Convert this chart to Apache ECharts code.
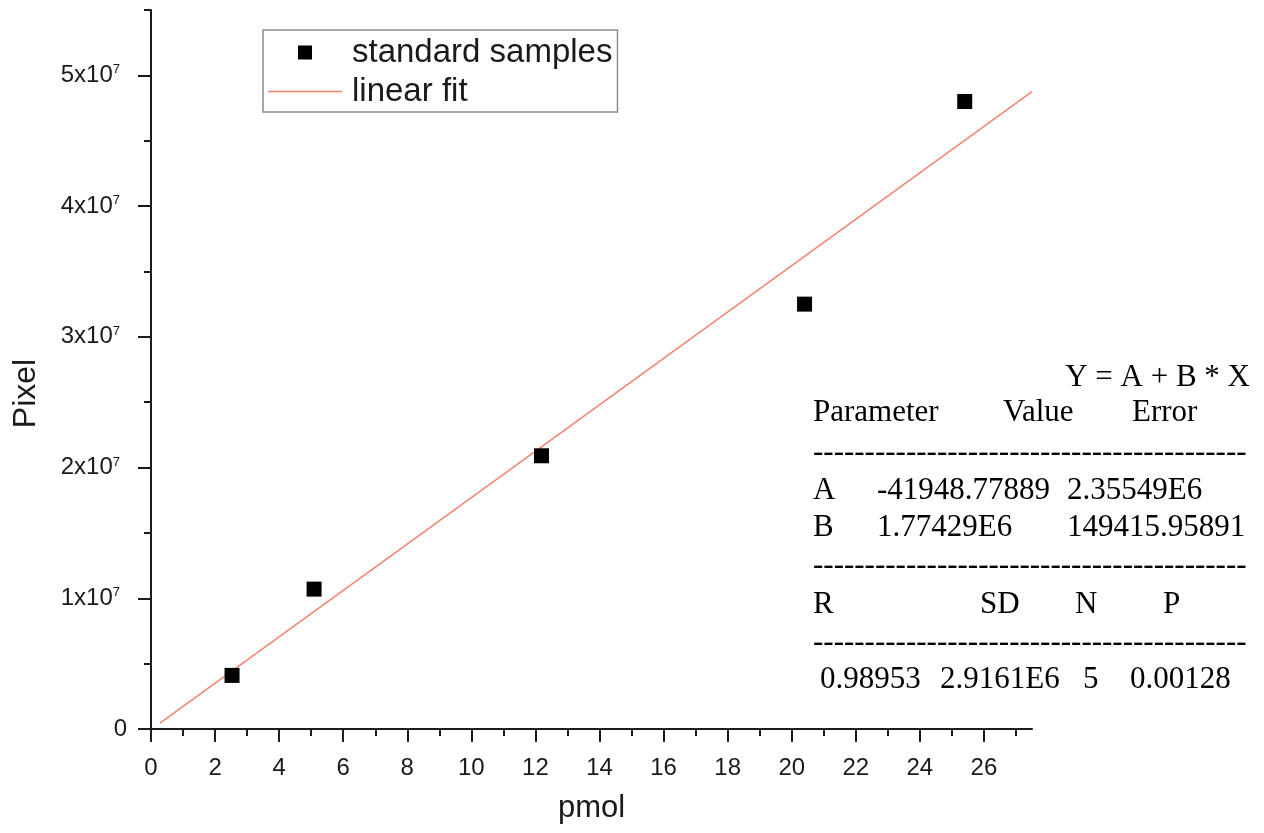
<!DOCTYPE html>
<html>
<head>
<meta charset="utf-8">
<title>Pixel vs pmol calibration</title>
<script src="https://cdn.jsdelivr.net/npm/echarts@6/dist/echarts.min.js"></script>
<style>
  html, body { margin: 0; padding: 0; background: #ffffff; }
  #chart { width: 1264px; height: 833px; }
</style>
</head>
<body>
<div id="chart"></div>
<script>
// Standard samples (amount in pmol vs integrated pixel intensity)
const samplePmol = [2.53, 5.09, 12.19, 20.40, 25.40];
const samplePixel = [4.1e6, 1.07e7, 2.09e7, 3.25e7, 4.80e7];

// Linear fit Y = A + B * X, drawn over this pmol range
const fitA = -41948.77889;
const fitB = 1.77429e6;
const fitRange = [0.28, 27.5];

// Axis ticks
const xMajorTicks = [0, 2, 4, 6, 8, 10, 12, 14, 16, 18, 20, 22, 24, 26];
const xMinorTicks = [1, 3, 5, 7, 9, 11, 13, 15, 17, 19, 21, 23, 25, 27];
const yMajorTicks = [0, 1e7, 2e7, 3e7, 4e7, 5e7];
const yMinorTicks = [0.5e7, 1.5e7, 2.5e7, 3.5e7, 4.5e7, 5.5e7];

// Fit report table
const fitEquation = 'Y = A + B * X';
const paramHeader = ['Parameter', 'Value', 'Error'];
const paramRows = [
  ['A', '-41948.77889', '2.35549E6'],
  ['B', '1.77429E6', '149415.95891']
];
const statHeader = ['R', 'SD', 'N', 'P'];
const statValues = ['0.98953', '2.9161E6', '5', '0.00128'];

const sampleData = samplePmol.map((x, i) => [x, samplePixel[i]]);
const fitData = fitRange.map(x => [x, fitA + fitB * x]);

const ink = '#1a1a1a';
const fitColor = '#f2826f';
const sans = 'Liberation Sans, Arial, sans-serif';
const serif = 'Liberation Serif, Times New Roman, serif';

// Report table layout
const tableFont = 31;
const dashLine = '-'.repeat(42);
const report = [];
function addText(x, y, text, align) {
  report.push({
    type: 'text', x: x, y: y, silent: true,
    style: { text: text, fontSize: tableFont, fontFamily: serif, fill: '#000', align: align || 'left', verticalAlign: 'middle' }
  });
}
addText(1250, 378, fitEquation, 'right');
[813, 1003, 1132].forEach((x, i) => addText(x, 413, paramHeader[i]));
addText(813, 453, dashLine);
paramRows.forEach((row, r) => {
  [813, 877, 1067].forEach((x, i) => addText(x, 491 + r * 37, row[i]));
});
addText(813, 566, dashLine);
[813, 980, 1075, 1163].forEach((x, i) => addText(x, 605, statHeader[i]));
addText(813, 643, dashLine);
[820, 940, 1083, 1130].forEach((x, i) => addText(x, 680, statValues[i]));

function yLabel(v) {
  if (v === 0) return '{m|0}';
  return '{m|' + Math.round(v / 1e7) + 'x10}{s|7}';
}

const chart = echarts.init(document.getElementById('chart'), null, { renderer: 'canvas' });
chart.setOption({
  backgroundColor: '#ffffff',
  animation: false,
  grid: { left: 151, right: 232, top: 10, bottom: 104, containLabel: false },
  legend: {
    left: 263, top: 30, orient: 'vertical',
    borderColor: '#8c8c8c', borderWidth: 1.5, borderRadius: 0,
    padding: [6, 5, 4, 5], itemGap: 6,
    itemWidth: 74, itemHeight: 14,
    textStyle: { fontSize: 33, fontFamily: sans, color: ink, padding: [0, 0, 0, 5] },
    data: [
      { name: 'standard samples', icon: 'path://M0,0H10V10H0Z', itemStyle: { color: '#000000', opacity: 1 } },
      { name: 'linear fit', icon: 'path://M0,0H74V1.5H0Z', itemStyle: { color: fitColor } }
    ]
  },
  xAxis: [
    {
      type: 'value', min: 0, max: 27.5, interval: 2, position: 'bottom',
      name: 'pmol', nameLocation: 'middle', nameGap: 64,
      nameTextStyle: { fontSize: 31, fontFamily: sans, color: ink },
      axisLine: { show: true, onZero: false, lineStyle: { color: ink, width: 2 } },
      axisTick: { show: true, customValues: xMajorTicks, length: 13, lineStyle: { color: ink, width: 2 } },
      axisLabel: { customValues: xMajorTicks, fontSize: 24, fontFamily: sans, color: ink, margin: 27 },
      splitLine: { show: false }
    },
    {
      type: 'value', min: 0, max: 27.5, position: 'bottom',
      axisLine: { show: false },
      axisTick: { show: true, customValues: xMinorTicks, length: 7, lineStyle: { color: ink, width: 2 } },
      axisLabel: { show: false },
      splitLine: { show: false }
    }
  ],
  yAxis: [
    {
      type: 'value', min: 0, max: 5.5e7, interval: 1e7, position: 'left',
      name: 'Pixel', nameLocation: 'middle', nameGap: 109, nameRotate: 90,
      nameTextStyle: { fontSize: 32, fontFamily: sans, color: ink, padding: [0, 48, 0, 0] },
      axisLine: { show: true, onZero: false, lineStyle: { color: ink, width: 2 } },
      axisTick: { show: true, customValues: yMajorTicks, length: 13, lineStyle: { color: ink, width: 2 } },
      axisLabel: {
        customValues: yMajorTicks, margin: 24, color: ink,
        formatter: yLabel,
        rich: {
          m: { fontSize: 24, fontFamily: sans, color: ink, lineHeight: 24 },
          s: { fontSize: 13, fontFamily: sans, color: ink, lineHeight: 13, verticalAlign: 'top', padding: [0, 7, 12, 0] }
        }
      },
      splitLine: { show: false }
    },
    {
      type: 'value', min: 0, max: 5.5e7, position: 'left',
      axisLine: { show: false },
      axisTick: { show: true, customValues: yMinorTicks, length: 7, lineStyle: { color: ink, width: 2 } },
      axisLabel: { show: false },
      splitLine: { show: false }
    }
  ],
  graphic: report,
  series: [
    {
      name: 'standard samples', type: 'scatter', xAxisIndex: 0, yAxisIndex: 0,
      symbol: 'rect', symbolSize: 15,
      itemStyle: { color: '#000000', opacity: 1 },
      data: sampleData, z: 3
    },
    {
      name: 'linear fit', type: 'line', xAxisIndex: 0, yAxisIndex: 0,
      showSymbol: false, symbol: 'none',
      lineStyle: { color: fitColor, width: 1.5 },
      itemStyle: { color: fitColor },
      data: fitData, z: 2
    }
  ]
});
</script>
</body>
</html>
